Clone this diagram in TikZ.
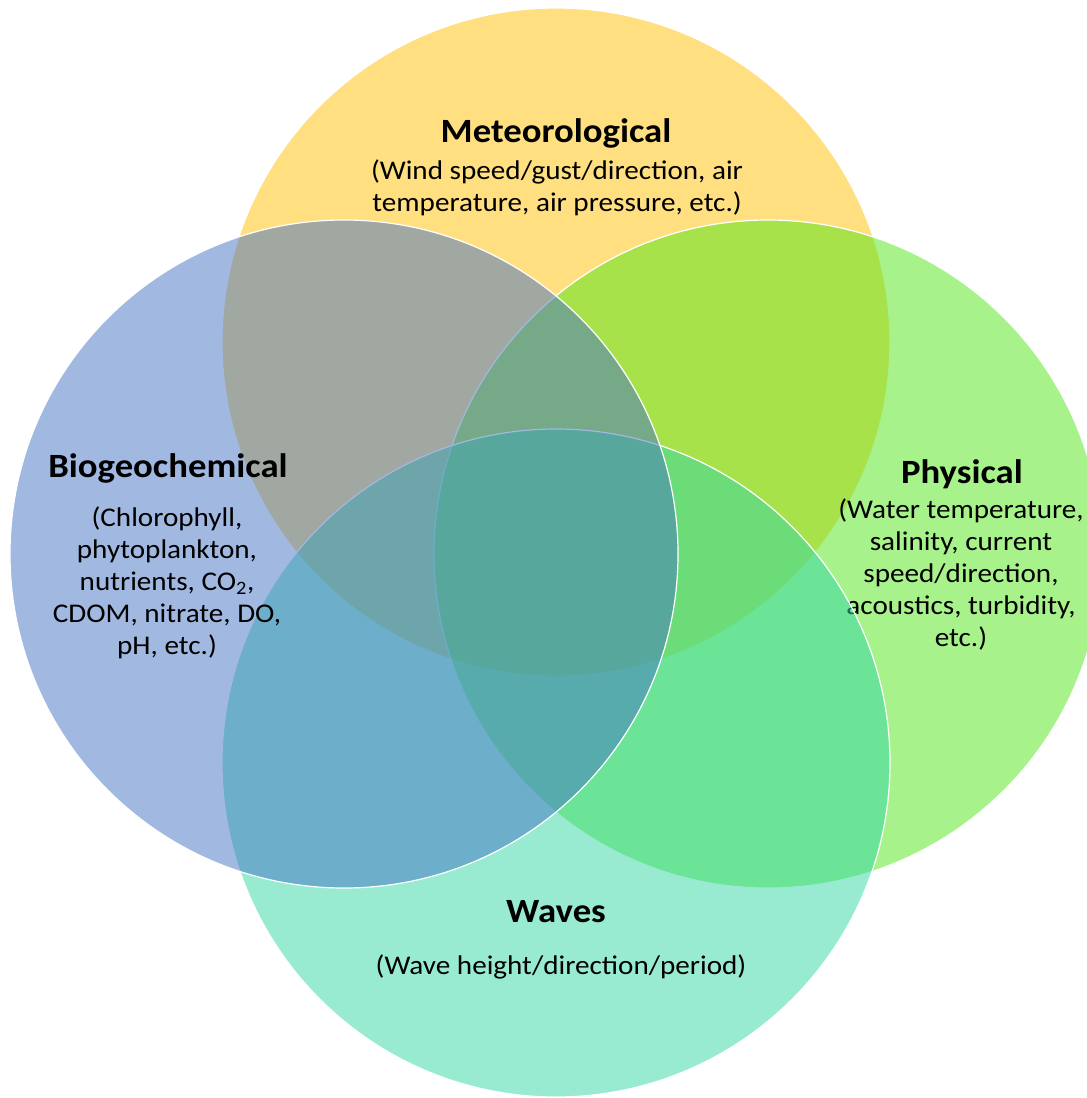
\documentclass[tikz,border=0pt]{standalone}
\usepackage{fontspec}
\setmainfont{Carlito}[FakeStretch=1.08]
\usepackage{tikz}
\usetikzlibrary{positioning}

\definecolor{metcol}{RGB}{255,192,0}
\definecolor{phycol}{RGB}{81,229,25}
\definecolor{wavcol}{RGB}{49,215,163}
\definecolor{biocol}{RGB}{68,114,196}

\tikzset{
  venn/.style={circle, inner sep=0pt, minimum size={2*\circR pt}, draw=white, line width=1.2pt, fill opacity=0.5},
  headtext/.style={font=\fontsize{34}{40}\selectfont\bfseries},
  bodytext/.style={align=center, font=\fontsize{27}{32}\selectfont},
}

\begin{document}
\begin{tikzpicture}[x=1pt, y=-1pt]
\useasboundingbox (0,0) rectangle (1087,1098);
\clip (0,0) rectangle (1087,1098);
\pgfmathsetmacro{\circR}{334}

% Draw meteorological circle
\node[venn, fill=metcol] (met) at (556,342) {};
\node[headtext] (methead) at (556,133) {Meteorological};
\node[bodytext] (metbody) at (557,188) {(Wind speed/gust/direction, air\\temperature, air pressure, etc.)};

% Draw physical circle
\node[venn, fill=phycol] (phy) at (768,554) {};
\node[headtext] (phyhead) at (962,474) {Physical};
\node[bodytext] (phybody) at (961,574) {(Water temperature,\\salinity, current\\speed/direction,\\acoustics, turbidity,\\etc.)};

% Draw waves circle
\node[venn, fill=wavcol] (wav) at (556,763) {};
\node[headtext] (wavhead) at (556,912) {Waves};
\node[bodytext] (wavbody) at (561,967) {(Wave height/direction/period)};

% Draw biogeochemical circle
\node[venn, fill=biocol] (bio) at (344,554) {};
\node[headtext] (biohead) at (168,468) {Biogeochemical};
\node[bodytext] (biobody) at (167,583) {(Chlorophyll,\\phytoplankton,\\nutrients, CO\textsubscript{2},\\CDOM, nitrate, DO,\\pH, etc.)};
\end{tikzpicture}
\end{document}
